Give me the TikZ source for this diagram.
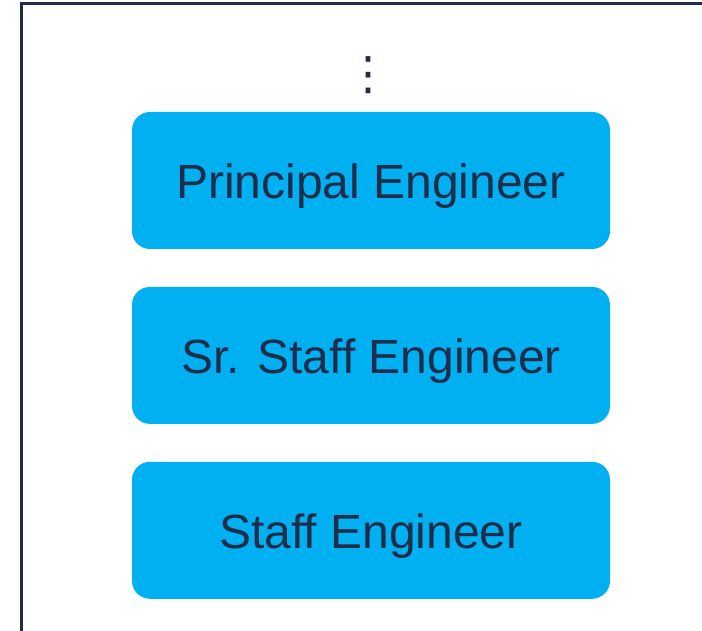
\documentclass[tikz,border=0pt]{standalone}
\usepackage{fontspec}
\setmainfont{Liberation Sans}
\newfontfamily\symfont{DejaVu Sans}
\usetikzlibrary{positioning}
\definecolor{levelblue}{RGB}{0,176,240}
\definecolor{navytext}{RGB}{31,45,74}
\begin{document}
\begin{tikzpicture}[x=1pt,y=1pt,
    level/.style={fill=levelblue,rounded corners=18pt,minimum width=478pt,
      minimum height=137pt,text=navytext,text height=36pt,text depth=0pt,
      font=\fontsize{48}{56}\selectfont},
    node distance=37.5pt]
  \useasboundingbox (0,0) rectangle (702,630);
  \draw[navytext,line width=3pt] (21,-5) -- (21,626.5) -- (710,626.5);
  \node[text=navytext,font=\symfont\fontsize{46}{52}\selectfont] (more) at (368,555) {⋮};
  \node[level] (principal) at (371,449.5) {Principal Engineer};
  \node[level,below=of principal] (srstaff) {Sr. Staff Engineer};
  \node[level,below=of srstaff] (staff) {Staff Engineer};
\end{tikzpicture}
\end{document}
